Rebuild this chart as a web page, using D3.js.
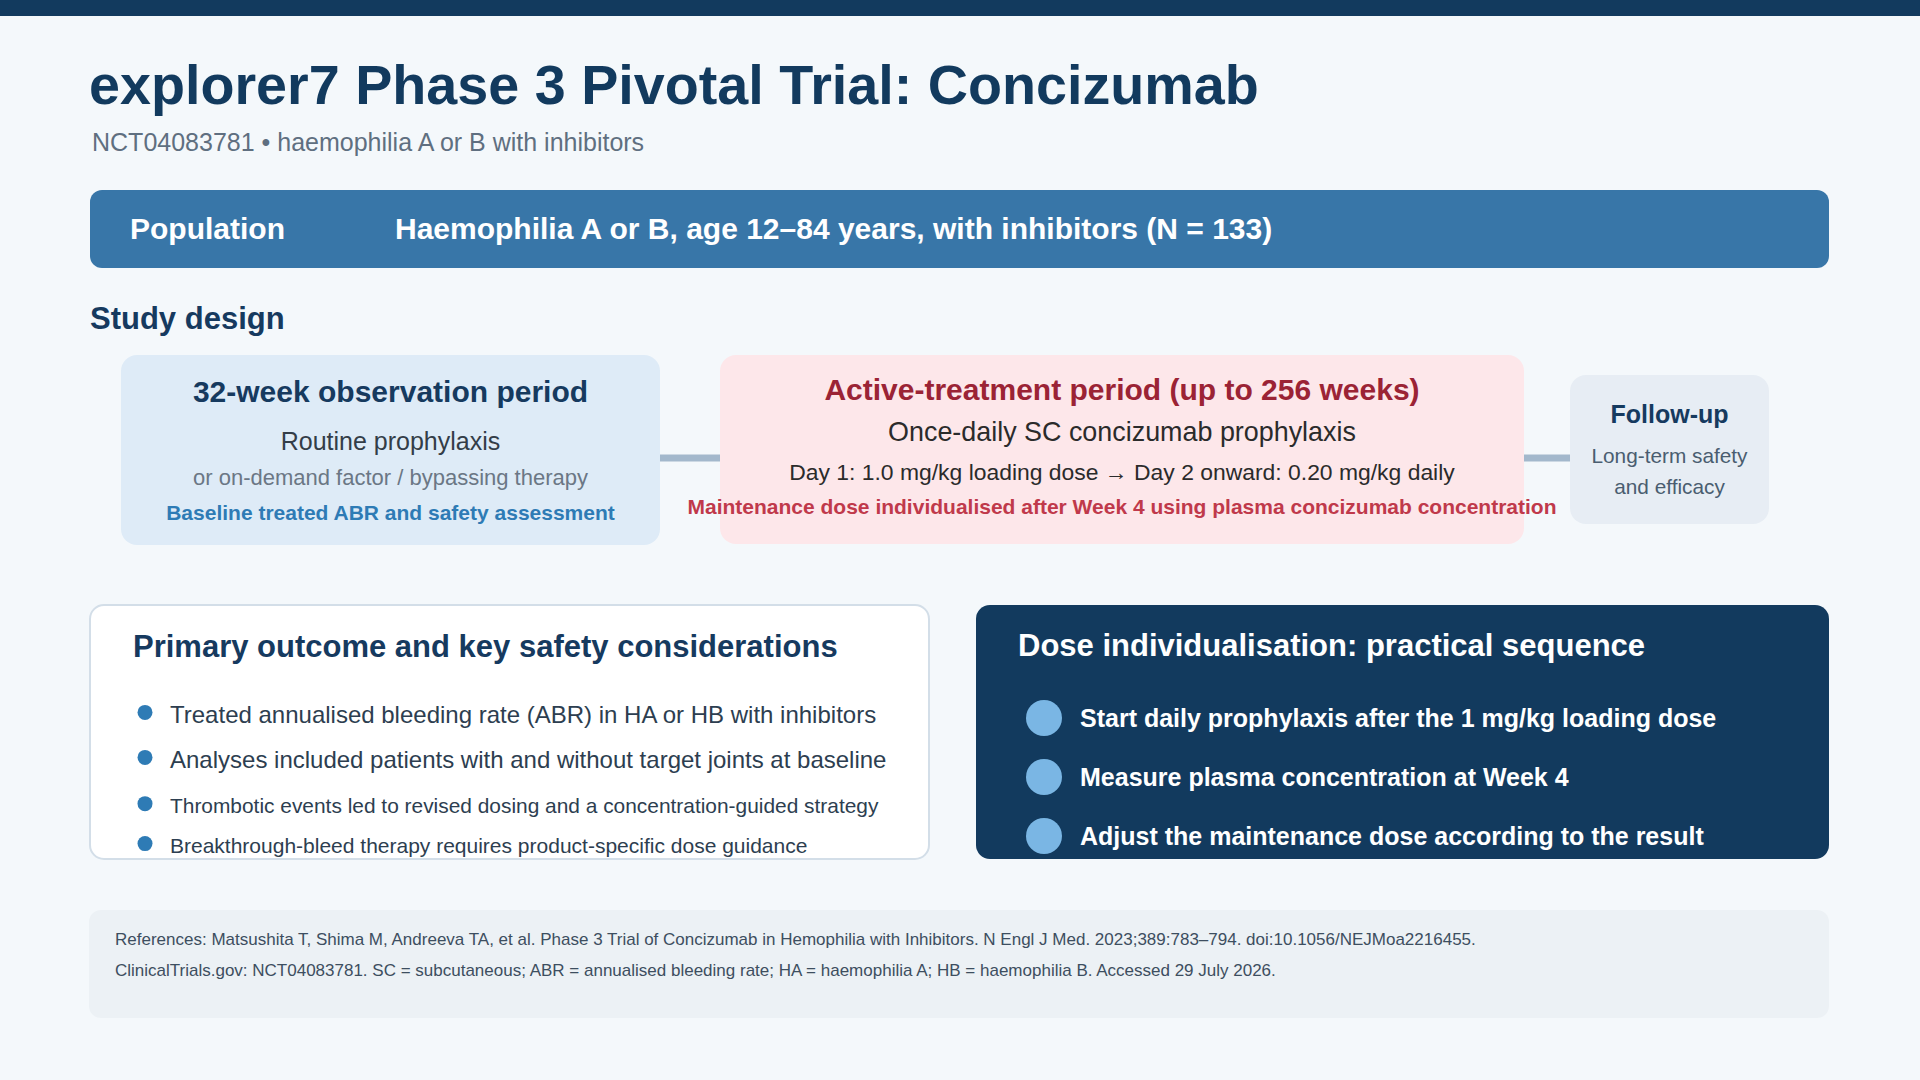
<!DOCTYPE html>
<html>
<head>
<meta charset="utf-8">
<script src="https://cdn.jsdelivr.net/npm/d3@7"></script>
<style>
  html, body { margin: 0; padding: 0; background: #f4f8fb; }
  svg { display: block; font-family: "Liberation Sans", Arial, Helvetica, sans-serif; }
</style>
</head>
<body>
<svg id="chart" width="1920" height="1080"></svg>
<script>
// ---------------------------------------------------------------- data
const titleText = 'explorer7 Phase 3 Pivotal Trial: Concizumab';
const subtitleText = 'NCT04083781 \u2022 haemophilia A or B with inhibitors';
const populationLabel = 'Population';
const populationText = 'Haemophilia A or B, age 12\u201384 years, with inhibitors (N = 133)';
const designLabel = 'Study design';

const phaseNames = ['observation', 'active', 'followup'];
const phaseTitles = ['32-week observation period', 'Active-treatment period (up to 256 weeks)', 'Follow-up'];
const phaseLines = [
    ['Routine prophylaxis', 'or on-demand factor / bypassing therapy', 'Baseline treated ABR and safety assessment'],
    ['Once-daily SC concizumab prophylaxis', 'Day 1: 1.0 mg/kg loading dose \u2192 Day 2 onward: 0.20 mg/kg daily', 'Maintenance dose individualised after Week 4 using plasma concizumab concentration'],
    ['Long-term safety', 'and efficacy']
];

const outcomeTitle = 'Primary outcome and key safety considerations';
const outcomeBullets = [
    'Treated annualised bleeding rate (ABR) in HA or HB with inhibitors',
    'Analyses included patients with and without target joints at baseline',
    'Thrombotic events led to revised dosing and a concentration-guided strategy',
    'Breakthrough-bleed therapy requires product-specific dose guidance'
];

const sequenceTitle = 'Dose individualisation: practical sequence';
const sequenceSteps = [
    'Start daily prophylaxis after the 1 mg/kg loading dose',
    'Measure plasma concentration at Week 4',
    'Adjust the maintenance dose according to the result'
];

const referenceLines = [
    'References: Matsushita T, Shima M, Andreeva TA, et al. Phase 3 Trial of Concizumab in Hemophilia with Inhibitors. N Engl J Med. 2023;389:783\u2013794. doi:10.1056/NEJMoa2216455.',
    'ClinicalTrials.gov: NCT04083781. SC = subcutaneous; ABR = annualised bleeding rate; HA = haemophilia A; HB = haemophilia B. Accessed 29 July 2026.'
];

// ---------------------------------------------------------------- layout
const NAVY = '#123a5e';
const svg = d3.select('#chart');

svg.append('rect').attr('width', 1920).attr('height', 1080).attr('fill', '#f4f8fb');
svg.append('rect').attr('width', 1920).attr('height', 16).attr('fill', NAVY);

svg.append('text')
    .text(titleText)
    .attr('x', 89).attr('y', 104)
    .style('font-size', '55.7px').style('font-weight', 'bold')
    .style('fill', NAVY);

svg.append('text')
    .text(subtitleText)
    .attr('x', 92).attr('y', 151)
    .style('font-size', '25px')
    .style('fill', '#5f6f80');

// population banner
const pop = svg.append('g').attr('class', 'population');
pop.append('rect')
    .attr('x', 90).attr('y', 190)
    .attr('width', 1739).attr('height', 78)
    .attr('rx', 12)
    .attr('fill', '#3876a8');
pop.append('text')
    .text(populationLabel)
    .attr('x', 130).attr('y', 239)
    .style('font-size', '30px').style('font-weight', 'bold')
    .style('fill', 'white');
pop.append('text')
    .text(populationText)
    .attr('x', 395).attr('y', 239)
    .style('font-size', '30px').style('font-weight', 'bold')
    .style('fill', 'white');

svg.append('text')
    .text(designLabel)
    .attr('x', 90).attr('y', 329)
    .style('font-size', '31px').style('font-weight', 'bold')
    .style('fill', '#163a5f');

// ---------------------------------------------------------------- study design
const phaseBoxes = [
    {x: 121, y: 355, w: 539, h: 190, fill: '#deebf7'},
    {x: 720, y: 355, w: 804, h: 189, fill: '#fde7ea'},
    {x: 1570, y: 375, w: 199, h: 149, fill: '#e7edf4'}
];
const phaseStyles = [
    {title: {y: 47, size: 30, color: '#163a5f'},
     lines: [{y: 95, size: 25, color: '#333d48', weight: 'normal'},
             {y: 130, size: 22, color: '#6b7785', weight: 'normal'},
             {y: 165, size: 21, color: '#2e7bb5', weight: 'bold'}]},
    {title: {y: 45, size: 30, color: '#9b2335'},
     lines: [{y: 86, size: 26.9, color: '#2b2b2b', weight: 'normal'},
             {y: 125, size: 22.9, color: '#2b2b2b', weight: 'normal'},
             {y: 159, size: 21, color: '#c0394b', weight: 'bold'}]},
    {title: {y: 48, size: 25, color: '#163a5f'},
     lines: [{y: 88, size: 20.8, color: '#4a5d70', weight: 'normal'},
             {y: 119, size: 20.8, color: '#4a5d70', weight: 'normal'}]}
];

// connectors between boxes
const connectorY = 458;
d3.pairs(phaseBoxes).forEach(([a, b]) => {
    svg.append('rect')
        .attr('x', a.x + a.w).attr('y', connectorY - 3.5)
        .attr('width', b.x - (a.x + a.w)).attr('height', 7)
        .attr('fill', '#a3b8cc');
});

const phase = svg.selectAll('g.phase')
    .data(phaseNames)
    .enter().append('g')
    .attr('class', (d) => `phase ${d}`)
    .attr('transform', (d, i) => `translate(${phaseBoxes[i].x}, ${phaseBoxes[i].y})`);

phase.append('rect')
    .attr('width', (d, i) => phaseBoxes[i].w)
    .attr('height', (d, i) => phaseBoxes[i].h)
    .attr('rx', 16)
    .attr('fill', (d, i) => phaseBoxes[i].fill);

phase.append('text')
    .text((d, i) => phaseTitles[i])
    .attr('x', (d, i) => phaseBoxes[i].w / 2)
    .attr('y', (d, i) => phaseStyles[i].title.y)
    .style('text-anchor', 'middle')
    .style('font-weight', 'bold')
    .style('font-size', (d, i) => phaseStyles[i].title.size + 'px')
    .style('fill', (d, i) => phaseStyles[i].title.color);

phase.each(function (d, i) {
    d3.select(this).selectAll('text.line')
        .data(phaseLines[i])
        .enter().append('text')
        .attr('class', 'line')
        .text((t) => t)
        .attr('x', phaseBoxes[i].w / 2)
        .attr('y', (t, j) => phaseStyles[i].lines[j].y)
        .style('text-anchor', 'middle')
        .style('font-size', (t, j) => phaseStyles[i].lines[j].size + 'px')
        .style('font-weight', (t, j) => phaseStyles[i].lines[j].weight)
        .style('fill', (t, j) => phaseStyles[i].lines[j].color);
});

// ---------------------------------------------------------------- outcome panel
const defs = svg.append('defs');
defs.append('clipPath').attr('id', 'outcomeClip')
    .append('rect').attr('x', 90).attr('y', 605).attr('width', 839).attr('height', 254).attr('rx', 14);
defs.append('clipPath').attr('id', 'sequenceClip')
    .append('rect').attr('x', 976).attr('y', 605).attr('width', 853).attr('height', 254).attr('rx', 14);

svg.append('rect')
    .attr('x', 90).attr('y', 605)
    .attr('width', 839).attr('height', 254)
    .attr('rx', 14)
    .attr('fill', 'white')
    .attr('stroke', '#d3dee8')
    .attr('stroke-width', 2);

const outcome = svg.append('g').attr('clip-path', 'url(#outcomeClip)');
outcome.append('text')
    .text(outcomeTitle)
    .attr('x', 133).attr('y', 657)
    .style('font-size', '31px').style('font-weight', 'bold')
    .style('fill', '#163a5f');

const bulletBaselines = [723, 768, 813, 853];
const bulletSize = [24, 24, 20.9, 21];

const bullet = outcome.selectAll('g.bullet')
    .data(outcomeBullets)
    .enter().append('g')
    .attr('class', 'bullet')
    .attr('transform', (d, i) => `translate(0, ${bulletBaselines[i]})`);

bullet.append('circle')
    .attr('cx', 145).attr('cy', (d, i) => -bulletSize[i] * 0.4 - 1)
    .attr('r', 7.5)
    .attr('fill', '#2e7bb5');

bullet.append('text')
    .text((d) => d)
    .attr('x', 170).attr('y', 0)
    .style('font-size', (d, i) => bulletSize[i] + 'px')
    .style('fill', '#2d3e50');

// ---------------------------------------------------------------- sequence panel
svg.append('rect')
    .attr('x', 976).attr('y', 605)
    .attr('width', 853).attr('height', 254)
    .attr('rx', 14)
    .attr('fill', NAVY);

const sequence = svg.append('g').attr('clip-path', 'url(#sequenceClip)');
sequence.append('text')
    .text(sequenceTitle)
    .attr('x', 1018).attr('y', 656)
    .style('font-size', '31px').style('font-weight', 'bold')
    .style('fill', 'white');

const stepY = d3.scalePoint().domain(d3.range(sequenceSteps.length)).range([718, 836]);

const step = sequence.selectAll('g.step')
    .data(sequenceSteps)
    .enter().append('g')
    .attr('class', 'step')
    .attr('transform', (d, i) => `translate(0, ${stepY(i)})`);

step.append('circle')
    .attr('cx', 1044).attr('cy', 0)
    .attr('r', 18)
    .attr('fill', '#7ab6e4');

step.append('text')
    .text((d) => d)
    .attr('x', 1080).attr('y', 9)
    .style('font-size', '25px').style('font-weight', 'bold')
    .style('fill', 'white');

// ---------------------------------------------------------------- references
svg.append('rect')
    .attr('x', 89).attr('y', 910)
    .attr('width', 1740).attr('height', 108)
    .attr('rx', 12)
    .attr('fill', '#ecf1f5');

svg.selectAll('text.ref')
    .data(referenceLines)
    .enter().append('text')
    .attr('class', 'ref')
    .text((d) => d)
    .attr('x', 115)
    .attr('y', (d, i) => 945 + i * 31)
    .style('font-size', '17px')
    .style('fill', '#3d4e60');
</script>
</body>
</html>
